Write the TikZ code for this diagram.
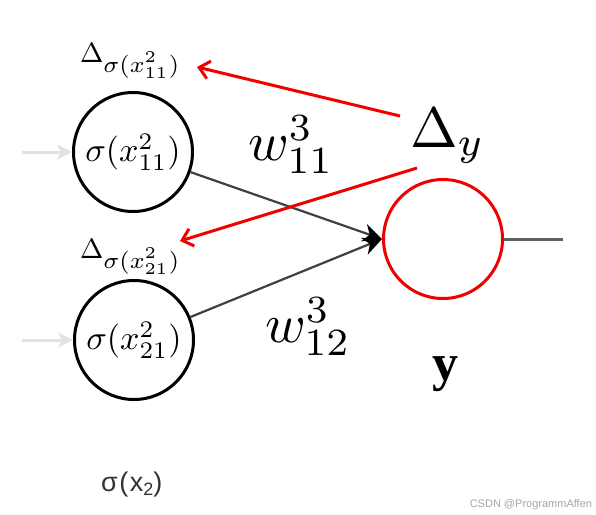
\documentclass[tikz,border=0pt]{standalone}
\usepackage{graphicx}
\usepackage{fontspec}
\newfontfamily\lsans{Liberation Sans}
\newfontfamily\lsanswide[LetterSpace=6]{Liberation Sans}
\newfontfamily\lserif{Liberation Serif}
\usetikzlibrary{arrows.meta}
\definecolor{inputgray}{HTML}{E2E2E2}
\definecolor{linegray}{HTML}{404040}
\definecolor{outgray}{HTML}{606060}
\definecolor{netred}{HTML}{F00000}
\tikzset{
  neuron/.style={circle, draw=black, line width=3pt, minimum size=119pt, inner sep=0pt},
  outneuron/.style={circle, draw=netred, line width=3pt, minimum size=119pt, inner sep=0pt},
  lbl/.style={inner sep=0pt, outer sep=0pt},
  inarrow/.style={draw=inputgray, line width=3pt, -{Stealth[length=15pt,width=15pt,inset=4pt,color=inputgray,fill=inputgray]}},
  wire/.style={draw=linegray, line width=2.2pt, -{Stealth[length=19pt,width=18pt,inset=6pt,color=black,fill=black]}},
  redarrow/.style={draw=netred, line width=3pt, -{Straight Barb[length=10pt,width=18pt]}},
}
\newcommand{\dlabel}[1]{\scalebox{2.8}{$\Delta$}\raisebox{-10pt}{\scalebox{3.3}{$\scriptstyle\sigma(x^2_{#1})$}}}
\begin{document}
\begin{tikzpicture}[x=1pt,y=-1pt]
\fill[white] (0,0) rectangle (596,514);
\useasboundingbox (0,0) rectangle (596,514);

\node[neuron] (c1) at (133,152) {\scalebox{3.4}{$\sigma(x^2_{11})$}};
\node[neuron] (c2) at (134,340) {\scalebox{3.4}{$\sigma(x^2_{21})$}};
\node[outneuron] (out) at (443,239) {};

\coordinate (in1) at (22,152);
\coordinate (in2) at (22,340);
\coordinate (outend) at (563,239);
\draw[inarrow] (in1) -- (c1.west);
\draw[inarrow] (in2) -- (c2.west);
\draw[draw=outgray, line width=3pt] (out.east) -- (outend);

\draw[wire] (c1) -- (out.west);
\draw[wire] (c2) -- (out.west);

\node[lbl, anchor=base west] (w11) at (248,160) {\scalebox{5.5}{$w^3_{11}$}};
\node[lbl, anchor=base west] (w12) at (265,342) {\scalebox{5.5}{$w^3_{12}$}};

\node[lbl, anchor=base west] (dy) at (410,147) {\scalebox{5.7}{$\Delta_y$}};

\node[lbl, anchor=base west] (d1) at (80,62) {\dlabel{11}};
\node[lbl, anchor=base west] (d2) at (80,258) {\dlabel{21}};

\coordinate (r1s) at (400,116);
\coordinate (r1e) at (197,67);
\coordinate (r2s) at (417,168);
\coordinate (r2e) at (180,241);
\draw[redarrow] (r1s) -- (r1e);
\draw[redarrow] (r2s) -- (r2e);

\node[lbl, anchor=base west] (ylab) at (432,380) {\fontsize{52}{60}\selectfont\lserif\bfseries y};

\node[lbl, anchor=base west, text=black!80] (sx2) at (101,491) {\fontsize{27}{30}\selectfont\lsanswide σ(x\raisebox{-4pt}{\fontsize{18}{20}\selectfont 2})};

\node[lbl, anchor=base east, text=black!35] (wm) at (592,507) {\fontsize{11}{13}\selectfont\lsans CSDN @ProgrammAffen};
\end{tikzpicture}
\end{document}
